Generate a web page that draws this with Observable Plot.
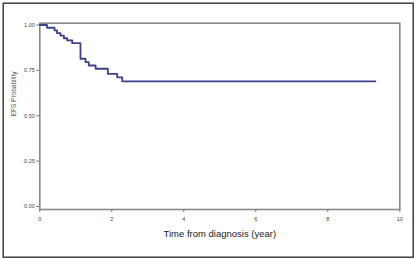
<!DOCTYPE html>
<html>
<head>
<meta charset="utf-8">
<script src="https://cdn.jsdelivr.net/npm/d3@7"></script>
<script src="https://cdn.jsdelivr.net/npm/@observablehq/plot@0.6"></script>
<style>
  html, body { margin: 0; padding: 0; background: #fff; }
  #chart svg { display: block; font-family: "Liberation Sans", Arial, sans-serif; }
</style>
</head>
<body>
<div id="chart"></div>
<script>
// Kaplan–Meier event-free survival (step-after)
const times = [0, 0.2, 0.41, 0.48, 0.575, 0.67, 0.76, 0.9, 1.13, 1.27, 1.36, 1.55, 1.89, 2.15, 2.29, 9.32];
const surv  = [1, 0.985, 0.97, 0.955, 0.942, 0.927, 0.915, 0.9, 0.814, 0.795, 0.777, 0.759, 0.731, 0.712, 0.69, 0.69];
const xTicks = [0, 2, 4, 6, 8, 10];
const yTicks = [0, 0.25, 0.5, 0.75, 1];
const xLabel = "Time from diagnosis (year)";
const yLabel = "EFS Probability";

const data = times.map((t, i) => ({t, s: surv[i]}));

const chart = Plot.plot({
  width: 417,
  height: 259,
  marginLeft: 39.3,
  marginRight: 17.7,
  marginTop: 22.7,
  marginBottom: 50,
  style: {background: "#fff", fontFamily: "Liberation Sans, Arial, sans-serif"},
  x: {domain: [0, 10], ticks: xTicks, tickFormat: d => String(d), label: null},
  y: {domain: [-0.0165, 1.01], ticks: yTicks, tickFormat: d3.format(".2f"), label: null},
  marks: [
    Plot.frame({stroke: "#333", strokeWidth: 1.4, insetLeft: -36.6, insetRight: -13.4, insetTop: -20, insetBottom: -47.7}),
    Plot.frame({stroke: "#8a8a8a", strokeWidth: 1.6}),
    Plot.axisX({ticks: xTicks, tickSize: 3, tickPadding: 5, fontSize: 5.5, stroke: "#777", fill: "#444", tickFormat: d => String(d), label: null}),
    Plot.axisY({ticks: yTicks, tickSize: 3, tickPadding: 2, fontSize: 5.5, stroke: "#777", fill: "#444", tickFormat: d3.format(".2f"), label: null}),
    Plot.line(data, {x: "t", y: "s", curve: "step-after", stroke: "#3c4189", strokeWidth: 1.8}),
    Plot.text([xLabel], {frameAnchor: "bottom", dy: 27, fontSize: 9.5, fill: "#222", text: d => d}),
    Plot.text([yLabel], {frameAnchor: "left", dx: -26, rotate: -90, fontSize: 6.5, fill: "#555", text: d => d})
  ]
});
document.getElementById("chart").appendChild(chart);
</script>
</body>
</html>
